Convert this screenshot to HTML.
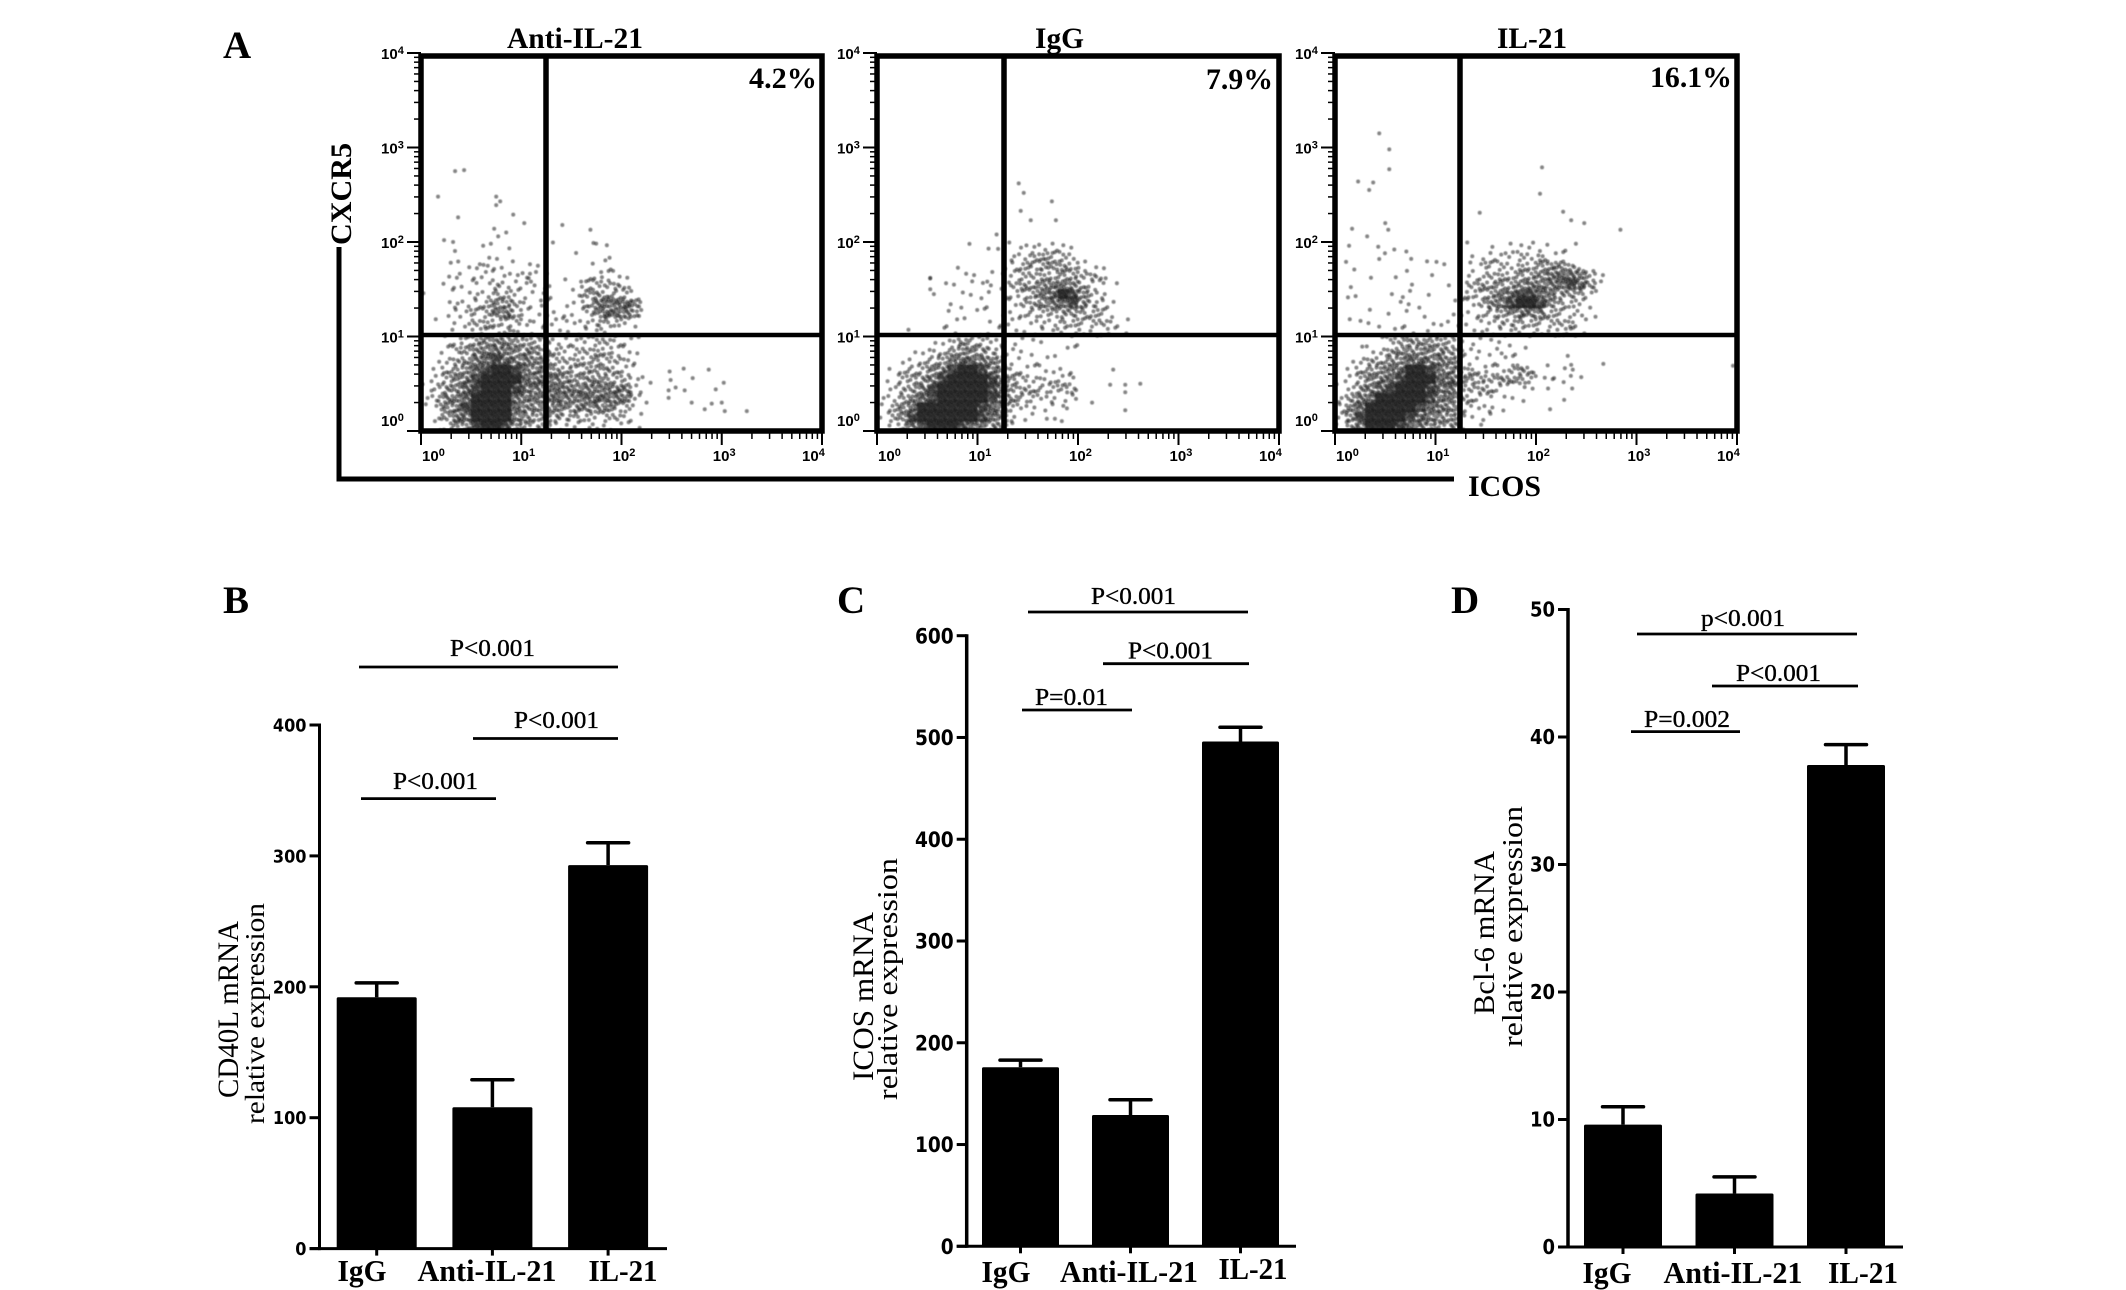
<!DOCTYPE html>
<html>
<head>
<meta charset="utf-8">
<title>Flow cytometry and mRNA expression panels</title>
<style>
html,body{margin:0;padding:0;background:#fff;}
svg{display:block;}
.serif{font-family:"Liberation Serif",serif;fill:#000;}
.sans{font-family:"Liberation Sans",sans-serif;fill:#000;font-weight:bold;}
.heavy{font-family:"DejaVu Sans",sans-serif;fill:#000;font-weight:bold;}
.b{font-weight:bold;}
</style>
</head>
<body>
<svg id="figure" width="2126" height="1290" viewBox="0 0 2126 1290" xmlns="http://www.w3.org/2000/svg">
  <defs>
    <filter id="soft" x="-5%" y="-5%" width="110%" height="110%"><feGaussianBlur stdDeviation="0.6"/></filter>
    <clipPath id="clip-p1"><rect x="421" y="55" width="401" height="376"/></clipPath>
    <clipPath id="clip-p2"><rect x="877" y="55" width="402" height="376"/></clipPath>
    <clipPath id="clip-p3"><rect x="1335" y="55" width="402" height="376"/></clipPath>
  </defs>

  <text class="serif b" x="223" y="58" font-size="39">A</text>
  <text class="serif b" x="223" y="613" font-size="39">B</text>
  <text class="serif b" x="837" y="613" font-size="39">C</text>
  <text class="serif b" x="1451" y="613" font-size="39">D</text>

  <text class="serif b" x="507" y="48" font-size="30" textLength="136" lengthAdjust="spacingAndGlyphs">Anti-IL-21</text>
  <text class="serif b" x="1035" y="48" font-size="30" textLength="49" lengthAdjust="spacingAndGlyphs">IgG</text>
  <text class="serif b" x="1497" y="48" font-size="30" textLength="70" lengthAdjust="spacingAndGlyphs">IL-21</text>

  <g id="scatter-layer"></g>

  <text class="serif b" x="749" y="88" font-size="30" textLength="68" lengthAdjust="spacingAndGlyphs">4.2%</text>
  <text class="serif b" x="1206" y="89" font-size="30" textLength="67" lengthAdjust="spacingAndGlyphs">7.9%</text>
  <text class="serif b" x="1650" y="87" font-size="30" textLength="82" lengthAdjust="spacingAndGlyphs">16.1%</text>

  <path d="M339 247 V479 H1454" fill="none" stroke="#000" stroke-width="5"/>
  <text class="serif b" transform="translate(351,245) rotate(-90)" font-size="30" textLength="102" lengthAdjust="spacingAndGlyphs">CXCR5</text>
  <text class="serif b" x="1468" y="496" font-size="30" textLength="73" lengthAdjust="spacingAndGlyphs">ICOS</text>

  <g id="bar-layer"></g>

  <text class="serif" transform="translate(238,1098) rotate(-90)" font-size="30" textLength="177" lengthAdjust="spacingAndGlyphs">CD40L mRNA</text>
  <text class="serif" transform="translate(264,1124) rotate(-90)" font-size="27" textLength="221" lengthAdjust="spacingAndGlyphs">relative expression</text>
  <text class="serif" transform="translate(873,1081) rotate(-90)" font-size="30" textLength="169" lengthAdjust="spacingAndGlyphs">ICOS mRNA</text>
  <text class="serif" transform="translate(897,1100) rotate(-90)" font-size="28" textLength="242" lengthAdjust="spacingAndGlyphs">relative expression</text>
  <text class="serif" transform="translate(1494,1015) rotate(-90)" font-size="30" textLength="164" lengthAdjust="spacingAndGlyphs">Bcl-6 mRNA</text>
  <text class="serif" transform="translate(1522,1047) rotate(-90)" font-size="28" textLength="241" lengthAdjust="spacingAndGlyphs">relative expression</text>
</svg>

<script>
// ---- Bar chart data ----
var barCategories = ["IgG", "Anti-IL-21", "IL-21"];
var cd40lValues = [192, 108, 293];
var cd40lErrors = [11, 21, 17];
var cd40lTicks = [0, 100, 200, 300, 400];
var icosValues = [176, 129, 496];
var icosErrors = [7, 15, 14];
var icosTicks = [0, 100, 200, 300, 400, 500, 600];
var bcl6Values = [9.6, 4.2, 37.8];
var bcl6Errors = [1.4, 1.3, 1.6];
var bcl6Ticks = [0, 10, 20, 30, 40, 50];

// ---- Flow cytometry data: decade exponents (log10 ICOS, log10 CXCR5) of sparse events ----
var antiIl21SparseX = [.34,.43,.17,.75,.79,.75,.92,.37,1.03,.73,.85,.77,1.41,1.69,1.72,.23,.32,.62,2.21,2.29,2.48,2.62,2.49,2.71,2.87,3.02,2.54,2.47,2.63,2.94,2.47,2.18,2.25,2.7,2.83,2.9,3.0,3.03,3.25];
var antiIl21SparseY = [2.75,2.76,2.48,2.48,2.43,2.39,2.29,2.26,2.2,2.14,2.1,2.06,2.18,2.13,1.99,2.02,2.0,1.96,.57,.51,.63,.66,.54,.56,.65,.51,.46,.43,.43,.44,.35,.38,.3,.3,.23,.29,.3,.21,.21];
var iggSparseX = [1.41,1.46,1.74,1.43,1.53,1.78,1.19,.92,1.11,.53,.53,2.35,1.98,2.14,2.32,2.47,2.62,2.47,2.47,1.89,1.69,1.77];
var iggSparseY = [2.62,2.52,2.43,2.33,2.23,2.23,2.08,1.98,1.93,1.62,1.5,.65,.34,.3,.49,.49,.5,.41,.22,.24,.13,.13];
var il21SparseX = [.44,.54,.54,.23,.38,.34,2.06,2.04,2.27,1.44,2.35,2.48,2.84,.5,.53,.17,.32,.14,.43,.59,.71,.44,.11,1.01,2.67,3.96,2.35,2.45,2.18,2.36,2.28,2.14,2.12];
var il21SparseY = [3.15,2.98,2.77,2.64,2.63,2.55,2.79,2.51,2.32,2.31,2.23,2.2,2.13,2.2,2.13,2.14,2.06,1.96,1.95,1.92,1.9,1.82,1.79,1.79,.71,.69,.7,.57,.56,.45,.33,.23,.45];

// Event density per 0.1-decade cell, rows run from CXCR5 1.9-2.0 decades down to 0-0.1, columns from ICOS 0 upward.
var antiIl21Density = [
[0,0,0,1,0,0,1,0,1,0,0,0,0,1,0,0,0,1,1,0],
[0,0,0,0,0,0,1,1,0,0,0,0,0,0,0,1,0,0,2,0],
[0,0,1,1,1,2,2,1,1,1,1,1,0,0,0,0,0,1,1,0],
[0,0,1,2,0,1,2,1,2,1,3,1,1,0,1,0,1,2,2,2,1],
[0,0,1,1,1,2,1,3,2,2,2,1,2,0,0,1,3,3,3,3,2],
[1,0,0,1,1,2,2,3,3,2,1,1,2,0,0,2,4,4,3,3,3],
[0,0,1,2,2,2,3,5,5,3,2,1,2,0,1,1,3,6,7,7,7,5],
[0,0,1,2,2,3,3,6,6,3,2,1,1,1,1,1,2,5,7,7,6,4],
[0,1,0,1,2,3,3,3,3,3,2,1,1,2,2,2,2,3,3,3,2,1],
[0,0,1,1,1,3,3,2,3,2,1,1,1,1,1,1,2,2,1,1,0,0],
[0,0,1,2,3,4,5,5,5,4,4,3,3,2,2,2,2,3,3,2,2,1],
[0,0,2,3,4,5,6,7,6,5,5,5,4,3,2,3,3,3,3,2,2,1],
[0,1,2,3,4,6,7,8,7,6,6,5,5,3,3,3,3,4,3,3,2,1],
[0,1,3,4,5,7,8,9,9,8,6,6,5,4,4,3,4,4,4,3,2,1],
[0,2,3,5,6,8,9,9,9,9,7,6,6,6,5,4,4,5,4,3,3,1],
[1,3,4,5,7,8,9,9,9,8,7,6,6,7,6,6,6,6,6,6,6,2],
[1,3,5,6,7,9,9,9,9,7,6,6,6,7,6,6,7,7,7,6,6,1],
[1,2,5,6,8,9,9,9,9,7,5,5,5,6,5,5,6,5,5,4,3,1],
[0,2,4,6,7,9,9,9,9,6,5,4,5,4,3,3,3,2,3,3,2,1],
[0,1,2,4,5,8,9,9,8,5,4,3,4,2,1,2,2,2,2,1,1,1]
];
var iggDensity = [
[0,0,0,0,0,0,0,0,0,0,0,0,1,1,2,1,2,2,1,1],
[0,0,0,0,0,0,0,0,0,0,0,0,0,2,2,3,4,3,3,2,0,0],
[0,0,0,0,0,0,0,0,1,0,0,0,1,2,3,4,4,5,4,3,2,1,1],
[0,0,0,0,0,1,0,0,1,1,0,1,1,2,3,3,3,3,4,4,3,3,2,0],
[0,0,0,0,0,0,1,1,0,1,2,1,1,3,4,4,5,6,6,5,3,2,2,1],
[0,0,0,0,0,1,0,0,1,1,1,1,1,2,3,4,6,7,9,8,5,3,2,0],
[0,0,0,0,0,0,0,1,1,0,1,0,1,2,3,3,5,6,7,8,5,3,2,1],
[0,0,0,0,0,0,0,1,0,1,1,0,1,1,2,3,3,4,4,4,3,3,3,1],
[0,0,0,0,0,0,1,1,1,0,0,1,1,2,1,2,2,2,3,3,3,3,3,2,1],
[0,0,0,1,0,0,1,1,0,0,1,1,1,1,1,1,1,2,2,2,2,2,2,2,1],
[0,0,0,0,0,1,1,2,4,3,3,2,2,1,1,1,1,0,0,1],
[0,0,0,1,1,2,2,4,5,5,4,3,2,1,1,1,0,0,1,1],
[0,0,1,1,2,3,4,6,7,7,6,5,3,1,1,1,1,1,0,0],
[0,1,2,3,3,5,6,8,9,9,8,6,4,2,2,1,2,1,1,1],
[0,1,3,4,4,6,8,9,9,9,9,8,5,4,3,2,2,2,2,2],
[0,2,3,4,5,8,9,9,9,9,9,8,6,4,3,3,3,3,4,3],
[1,2,3,5,7,8,9,9,9,9,9,8,6,4,3,3,2,2,1,1],
[1,3,5,7,9,9,9,9,9,9,8,7,6,3,2,1,1,1,1,0],
[1,3,5,8,9,9,9,9,9,9,8,7,5,2,1,1,0,0,1,0],
[0,2,4,6,8,9,9,9,8,7,5,5,4,1,0,0,0,0,0,0]
];
var il21Density = [
[0,0,0,0,0,0,0,0,0,0,0,0,0,1,0,1,0,1,1,2,1,1,1,1],
[0,0,0,0,1,0,0,1,0,0,0,0,0,1,1,2,2,2,3,2,3,1,1,0],
[0,1,0,0,0,0,0,0,0,1,1,0,0,1,2,3,3,2,3,3,4,5,5,3,1],
[0,0,0,1,0,0,1,1,0,1,0,0,0,2,2,3,3,3,4,4,5,6,7,7,6,3,1],
[0,1,0,0,0,0,0,1,0,0,0,1,0,3,4,4,4,4,5,6,6,6,7,8,7,4,1],
[0,1,1,0,0,1,1,1,0,1,0,0,1,3,3,4,6,7,8,8,7,6,4,4,3,2],
[0,0,0,0,0,0,1,1,1,0,0,1,1,2,3,5,6,8,9,9,8,5,3,3,2,1],
[0,0,0,1,0,1,0,1,1,0,0,1,1,1,2,3,4,5,6,6,5,3,3,2,2,1],
[0,1,1,1,1,0,1,0,0,1,1,1,1,1,2,2,3,3,3,3,3,3,3,3,1,0],
[0,0,0,0,1,1,1,1,0,1,1,0,0,1,1,2,2,2,2,2,2,2,3,3,1,0],
[0,0,0,0,1,3,3,4,4,4,4,3,2,1,1,1,1,1,0,0],
[0,0,1,2,2,3,5,5,5,5,5,4,3,1,1,1,2,1,1,0],
[0,1,2,3,3,5,5,7,7,6,6,5,3,1,1,1,1,1,0,0,0,0,0,1],
[0,1,3,4,5,6,7,9,9,8,6,6,3,3,2,2,2,3,4,3,0,1,1,1],
[0,2,3,5,6,7,8,9,9,9,7,7,4,4,4,3,4,4,4,3,1,1,1,1],
[1,2,4,6,7,8,9,9,9,8,7,7,3,3,3,3,2,1,1,1],
[2,4,6,7,9,9,9,9,9,8,6,6,4,3,2,2,1,1,1],
[2,5,7,9,9,9,9,9,8,7,6,5,3,2,2,2,1,0,0],
[2,5,8,9,9,9,9,8,7,6,5,5,3,1,1,1,0,0,0],
[1,4,7,9,9,9,8,7,6,5,4,4,2,0,1,0,0,0,0]
];
var decadeTicks = [0, 1, 2, 3, 4];
var decadeLabels = ["10", "10", "10", "10", "10"];
var decadeExponents = ["0", "1", "2", "3", "4"];

// ---- Layout ----
var NS = "http://www.w3.org/2000/svg";
function add(parent, tag, attrs, text) {
  var el = document.createElementNS(NS, tag);
  for (var k in attrs) { el.setAttribute(k, attrs[k]); }
  if (text !== undefined) { el.textContent = text; }
  parent.appendChild(el);
  return el;
}

// Sub-cell placement pattern so dots in a density cell read as speckle, not a lattice.
var speckle = [[.13,.71],[.58,.22],[.87,.64],[.33,.41],[.71,.93],[.05,.27],[.47,.83],[.92,.09],[.24,.58],[.66,.49],[.39,.05],[.81,.33],[.16,.95],[.54,.66],[.97,.81],[.29,.14],[.75,.17]];
// How many dots a density level draws.
var dotsPerLevel = [0, 1, 2, 4, 6, 8, 10, 12, 14, 17];

function drawDot(layer, cx, cy) {
  var dot = add(layer, "circle", {cx: cx, cy: cy, r: 2, fill: "#1a1a1a", "fill-opacity": 0.52});
  
  
}

function drawScatter(cfg) {
  var root = document.getElementById("scatter-layer");
  var g = add(root, "g", {});
  
  
  var bottom = 431;
  function xs(d) { return cfg.left + d * (cfg.right - cfg.left) / 4; }
  function ys(d) { return bottom - d * 94.5; }

  var dots = add(g, "g", {filter: "url(#soft)", "clip-path": "url(#" + cfg.clip + ")"});
  
  
  var rows = cfg.density;
  rows.forEach(function (row, r) {
    var j = rows.length - 1 - r;
    row.forEach(function (d, i) {
      if (d >= 8) {
        var core = add(dots, "rect", {x: xs(i / 10), y: ys((j + 1) / 10), width: xs((i + 1) / 10) - xs(i / 10), height: ys(j / 10) - ys((j + 1) / 10), fill: "#000", "fill-opacity": (d - 7) * 0.3});
        
        
      }
      var n = dotsPerLevel[Math.max(0, Math.min(9, d))];
      var start = (i * 7 + j * 3) % speckle.length;
      for (var k = 0; k < n; k++) {
        var o = speckle[(start + k) % speckle.length];
        drawDot(dots, xs((i + o[0]) / 10), ys((j + o[1]) / 10));
      }
    });
  });
  cfg.sparseX.forEach(function (x, i) {
    drawDot(dots, xs(x), ys(cfg.sparseY[i]));
  });

  // minor and major log ticks
  decadeTicks.forEach(function (t, idx) {
    var major = add(g, "line", {x1: xs(t), x2: xs(t), y1: bottom, y2: bottom + 14, stroke: "#000", "stroke-width": 2});
    
    
    var majorY = add(g, "line", {x1: cfg.left - 14, x2: cfg.left, y1: ys(t), y2: ys(t), stroke: "#000", "stroke-width": 2});
    
    
    if (idx < 4) {
      for (var m = 2; m < 10; m++) {
        var frac = Math.log10(m);
        var minor = add(g, "line", {x1: xs(t + frac), x2: xs(t + frac), y1: bottom, y2: bottom + 8, stroke: "#000", "stroke-width": 1.5});
        
        
        var minorY = add(g, "line", {x1: cfg.left - 7, x2: cfg.left, y1: ys(t + frac), y2: ys(t + frac), stroke: "#000", "stroke-width": 1.5});
        
        
      }
    }
    var shift = idx === 0 ? 1 : (idx === 4 ? -20 : -9);
    var xLab = add(g, "text", {"class": "sans", x: xs(t) + shift, y: 461, "font-size": 15});
    
    
    add(xLab, "tspan", {}, decadeLabels[idx]);
    add(xLab, "tspan", {dy: -5, "font-size": 11}, decadeExponents[idx]);
    var yPos = t === 0 ? ys(t) - 5 : ys(t) + 6;
    var yLab = add(g, "text", {"class": "sans", x: cfg.left - 40, y: yPos, "font-size": 15});
    
    
    add(yLab, "tspan", {}, decadeLabels[idx]);
    add(yLab, "tspan", {dy: -5, "font-size": 11}, decadeExponents[idx]);
  });

  var frame = add(g, "rect", {x: cfg.left, y: 56, width: cfg.right - cfg.left, height: bottom - 56, fill: "none", stroke: "#000", "stroke-width": 5.5});
  
  
  var vGate = add(g, "line", {x1: cfg.gateX, x2: cfg.gateX, y1: 56, y2: bottom, stroke: "#000", "stroke-width": 5.5});
  
  
  var hGate = add(g, "line", {x1: cfg.left, x2: cfg.right, y1: 335, y2: 335, stroke: "#000", "stroke-width": 4.5});
  
  
}

function drawBars(cfg) {
  var root = document.getElementById("bar-layer");
  var g = add(root, "g", {});
  
  
  var top = cfg.ticks[cfg.ticks.length - 1];
  function ys(v) { return cfg.y0 - v * (cfg.y0 - cfg.yTop) / top; }
  function xc(i) { return cfg.first + i * cfg.step; }

  cfg.values.forEach(function (v, i) {
    var cap = v + cfg.errors[i];
    var stem = add(g, "line", {x1: xc(i), x2: xc(i), y1: ys(cap), y2: ys(v), stroke: "#000", "stroke-width": 3.5});
    
    
    var capLine = add(g, "line", {x1: xc(i) - 20.5, x2: xc(i) + 20.5, y1: ys(cap), y2: ys(cap), stroke: "#000", "stroke-width": 3.5, "stroke-linecap": "round"});
    
    
    var bar = add(g, "rect", {x: xc(i) - cfg.barW / 2, y: ys(v), width: cfg.barW, height: cfg.y0 - ys(v), fill: "#000", rx: 1.5});
    
    
    var tick = add(g, "line", {x1: xc(i), x2: xc(i), y1: cfg.y0, y2: cfg.y0 + 7, stroke: "#000", "stroke-width": 3});
    
    
    var label = add(g, "text", {"class": "serif b", x: cfg.labelX[i], y: cfg.labelY[i], "font-size": 31, "text-anchor": "middle", textLength: cfg.labelW[i], lengthAdjust: "spacingAndGlyphs"}, barCategories[i]);
    
    
  });

  var yAxis = add(g, "line", {x1: cfg.axisX, x2: cfg.axisX, y1: cfg.yTop - 1.5, y2: cfg.y0 + 1.5, stroke: "#000", "stroke-width": cfg.axisW});
  
  
  var xAxis = add(g, "line", {x1: cfg.axisX - 10, x2: cfg.axisEnd, y1: cfg.y0, y2: cfg.y0, stroke: "#000", "stroke-width": 3});
  
  

  cfg.ticks.forEach(function (t) {
    var tick = add(g, "line", {x1: cfg.axisX - 10, x2: cfg.axisX, y1: ys(t), y2: ys(t), stroke: "#000", "stroke-width": 3});
    
    
    var s = String(t);
    var lab = add(g, "text", {"class": "heavy", x: cfg.axisX - 13 - s.length * cfg.digitW, y: ys(t) + cfg.tickSize * 0.36, "font-size": cfg.tickSize, textLength: s.length * cfg.digitW, lengthAdjust: "spacingAndGlyphs"}, s);
    
    
  });

  cfg.sig.forEach(function (s) {
    var line = add(g, "line", {x1: s[0], x2: s[1], y1: s[2], y2: s[2], stroke: "#000", "stroke-width": 2.8});
    
    
    var txt = add(g, "text", {"class": "serif", x: s[3], y: s[4], "font-size": 24, stroke: "#000", "stroke-width": 0.35, textLength: s[5], lengthAdjust: "spacingAndGlyphs"}, s[6]);
    
    
  });
}

drawScatter({name: "scatter-anti-il-21", left: 421, right: 822, gateX: 546, clip: "clip-p1", density: antiIl21Density, sparseX: antiIl21SparseX, sparseY: antiIl21SparseY});
drawScatter({name: "scatter-igg", left: 877, right: 1279, gateX: 1004, clip: "clip-p2", density: iggDensity, sparseX: iggSparseX, sparseY: iggSparseY});
drawScatter({name: "scatter-il-21", left: 1335, right: 1737, gateX: 1460, clip: "clip-p3", density: il21Density, sparseX: il21SparseX, sparseY: il21SparseY});

drawBars({name: "chart-cd40l", values: cd40lValues, errors: cd40lErrors, ticks: cd40lTicks,
  y0: 1248.6, yTop: 725, axisX: 319.5, axisW: 3, axisEnd: 667, first: 376.7, step: 115.7, barW: 80,
  labelX: [362, 487, 623], labelY: [1281, 1281, 1281], labelW: [49, 139, 69], digitW: 11.2, tickSize: 18,
  sig: [[359, 618, 667, 450, 656, 85, "P<0.001"], [473, 618, 738.5, 514, 728, 85, "P<0.001"], [361, 496, 798.6, 393, 789, 85, "P<0.001"]]});
drawBars({name: "chart-icos", values: icosValues, errors: icosErrors, ticks: icosTicks,
  y0: 1246.3, yTop: 635.7, axisX: 966.7, axisW: 3.5, axisEnd: 1296, first: 1020.5, step: 110, barW: 77,
  labelX: [1006, 1129, 1253], labelY: [1282, 1282, 1279], labelW: [49, 138, 69], digitW: 12.9, tickSize: 21,
  sig: [[1028, 1248, 612, 1091, 604, 85, "P<0.001"], [1103, 1249, 663.7, 1128, 658.6, 85, "P<0.001"], [1022, 1132, 710, 1035, 705, 73, "P=0.01"]]});
drawBars({name: "chart-bcl6", values: bcl6Values, errors: bcl6Errors, ticks: bcl6Ticks,
  y0: 1247, yTop: 609.5, axisX: 1568, axisW: 3.5, axisEnd: 1903, first: 1623, step: 111.5, barW: 78,
  labelX: [1607, 1733, 1863], labelY: [1283, 1283, 1283], labelW: [49, 139, 70], digitW: 12.5, tickSize: 20,
  sig: [[1637, 1857, 634, 1701, 626, 84, "p<0.001"], [1712, 1858, 686, 1736, 681, 85, "P<0.001"], [1631, 1740, 731.6, 1644, 727, 86, "P=0.002"]]});
</script>
</body>
</html>
